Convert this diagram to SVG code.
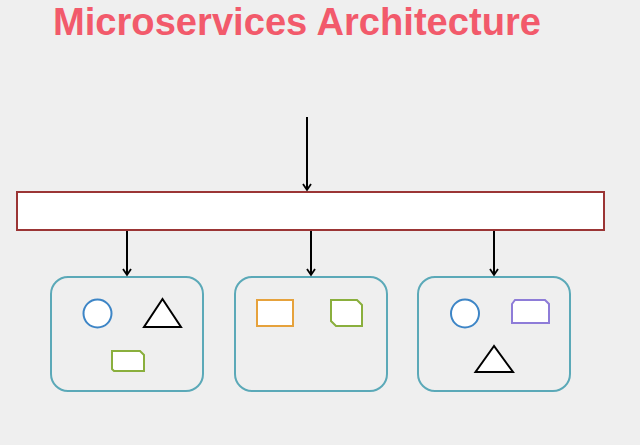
<svg xmlns="http://www.w3.org/2000/svg" width="640" height="445" viewBox="0 0 640 445">
<defs>
<marker id="ah" markerWidth="10" markerHeight="10" refX="8" refY="5" orient="auto" markerUnits="userSpaceOnUse">
<path d="M2,1 L8,5 L2,9" fill="none" stroke="#000" stroke-width="1.8"/>
</marker>
<style>
.title{font-family:"Liberation Sans",Arial,sans-serif;font-weight:bold;font-size:38px;fill:#f25a6b}
.svc{fill:#efefef;stroke:#5ba9b8;stroke-width:2}
.conn{stroke:#000;stroke-width:2;fill:none}
.circ{fill:#fff;stroke:#3d85c6;stroke-width:2}
.tri{fill:#fff;stroke:#000;stroke-width:2}
.green{fill:#fff;stroke:#8aaf3d;stroke-width:2}
.orange{fill:#fff;stroke:#e6a23c;stroke-width:2}
.purple{fill:#fff;stroke:#8e7cd8;stroke-width:2}
</style>
</defs>
<rect width="640" height="445" fill="#efefef"/>
<text class="title" x="53" y="35" textLength="488" lengthAdjust="spacingAndGlyphs">Microservices Architecture</text>
<g id="gateway">
<rect x="17" y="192" width="587" height="38" fill="#fff" stroke="#9b3535" stroke-width="2"/>
</g>
<g id="service1">
<rect class="svc" x="51" y="277" width="152" height="114" rx="17"/>
<circle class="circ" cx="97.5" cy="313.5" r="14"/>
<polygon class="tri" points="162.5,299 144,327 181,327"/>
<path class="green" d="M112,351 H140 L144,355 V371 H114 L112,369 Z"/>
</g>
<g id="service2">
<rect class="svc" x="235" y="277" width="152" height="114" rx="17"/>
<rect class="orange" x="257" y="300" width="36" height="26"/>
<path class="green" d="M331,300 H357 L362,305 V326 H336 L331,321 Z"/>
</g>
<g id="service3">
<rect class="svc" x="418" y="277" width="152" height="114" rx="17"/>
<circle class="circ" cx="465" cy="313.5" r="14"/>
<path class="purple" d="M515,300 H545 L549,304 V323 H512 V304 Z"/>
<polygon class="tri" points="494,346 475.5,372 513,372"/>
</g>
<g id="connectors">
<line class="conn" x1="307" y1="117" x2="307" y2="190" marker-end="url(#ah)"/>
<line class="conn" x1="127" y1="231" x2="127" y2="275" marker-end="url(#ah)"/>
<line class="conn" x1="311" y1="231" x2="311" y2="275" marker-end="url(#ah)"/>
<line class="conn" x1="494" y1="231" x2="494" y2="275" marker-end="url(#ah)"/>
</g>
</svg>
